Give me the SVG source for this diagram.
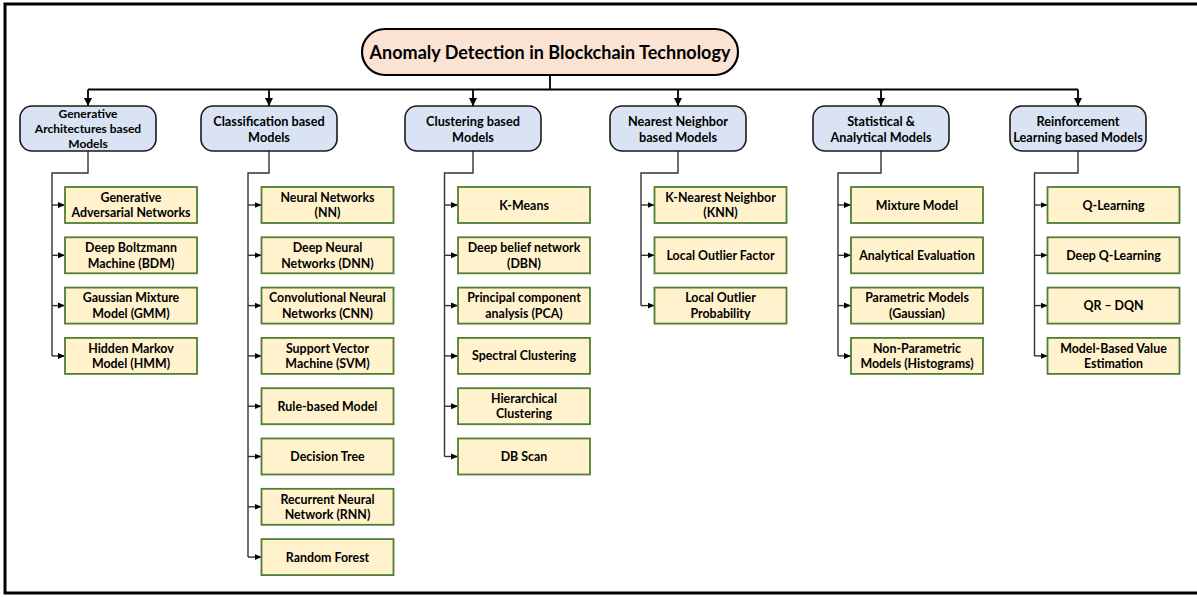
<svg xmlns="http://www.w3.org/2000/svg" width="1197" height="597" viewBox="0 0 1197 597">
<defs>
<style>
text{font-family:Lato,"Liberation Sans",sans-serif;font-weight:bold;fill:#000;text-anchor:middle;dominant-baseline:central}
.root rect{fill:#FBE3D4;stroke:#000;stroke-width:2.2}
.root text{font-size:18px}
.cat rect{fill:#DAE3F3;stroke:#1a1a1a;stroke-width:1.6}
.cat text{font-size:12.7px}
.cat text.s{font-size:12px}
.leaf rect{fill:#FFF2CC;stroke:#507E32;stroke-width:1.8}
.leaf text{font-size:12.4px}
.bus{fill:none;stroke:#000;stroke-width:1.8}
.sp{fill:none;stroke:#333;stroke-width:1.4}
</style>
<marker id="ad" markerUnits="userSpaceOnUse" markerWidth="9" markerHeight="10" refX="8" refY="5" orient="auto"><path d="M0,1 L8,5 L0,9 Z" fill="#000"/></marker>
<marker id="al" markerUnits="userSpaceOnUse" markerWidth="8" markerHeight="8" refX="7" refY="4" orient="auto"><path d="M0,1 L7,4 L0,7 Z" fill="#000"/></marker>
</defs>
<rect x="0" y="0" width="1197" height="597" fill="#fff"/>
<rect x="5" y="4" width="1200" height="589" fill="none" stroke="#000" stroke-width="3"/>

<g id="connectors">
<path class="bus" d="M550,75 V89.5 M88,89.5 H1078"/>
<path class="bus" d="M88,89.5 V106" marker-end="url(#ad)"/>
<path class="bus" d="M269,89.5 V106" marker-end="url(#ad)"/>
<path class="bus" d="M473,89.5 V106" marker-end="url(#ad)"/>
<path class="bus" d="M678,89.5 V106" marker-end="url(#ad)"/>
<path class="bus" d="M881,89.5 V106" marker-end="url(#ad)"/>
<path class="bus" d="M1078,89.5 V106" marker-end="url(#ad)"/>
<path class="sp" d="M88,151 V173 H52 V355.9"/>
<path class="sp" d="M269,151 V173 H248 V557.1"/>
<path class="sp" d="M473,151 V173 H444.5 V456.5"/>
<path class="sp" d="M678,151 V173 H641 V305.6"/>
<path class="sp" d="M881,151 V173 H838 V355.9"/>
<path class="sp" d="M1078,151 V173 H1034.5 V355.9"/>
<g class="sp" marker-end="url(#al)">
<path d="M52,205 H65"/><path d="M52,255.3 H65"/><path d="M52,305.6 H65"/><path d="M52,355.9 H65"/>
<path d="M248,205 H261.5"/><path d="M248,255.3 H261.5"/><path d="M248,305.6 H261.5"/><path d="M248,355.9 H261.5"/><path d="M248,406.2 H261.5"/><path d="M248,456.5 H261.5"/><path d="M248,506.8 H261.5"/><path d="M248,557.1 H261.5"/>
<path d="M444.5,205 H458"/><path d="M444.5,255.3 H458"/><path d="M444.5,305.6 H458"/><path d="M444.5,355.9 H458"/><path d="M444.5,406.2 H458"/><path d="M444.5,456.5 H458"/>
<path d="M641,205 H654.5"/><path d="M641,255.3 H654.5"/><path d="M641,305.6 H654.5"/>
<path d="M838,205 H851"/><path d="M838,255.3 H851"/><path d="M838,305.6 H851"/><path d="M838,355.9 H851"/>
<path d="M1034.5,205 H1047.5"/><path d="M1034.5,255.3 H1047.5"/><path d="M1034.5,305.6 H1047.5"/><path d="M1034.5,355.9 H1047.5"/>
</g>
</g>

<g id="root" class="root"><rect x="362" y="29" width="376" height="46" rx="23"/><text x="550" y="52">Anomaly Detection in Blockchain Technology</text></g>

<g id="cat-gen" class="cat"><rect x="20" y="106" width="136" height="45" rx="12"/><text class="s" x="88" y="113.5">Generative</text><text class="s" x="88" y="128.7">Architectures based</text><text class="s" x="88" y="143.9">Models</text></g>
<g id="cat-class" class="cat"><rect x="201" y="106" width="136" height="45" rx="12"/><text x="269" y="120.5">Classification based</text><text x="269" y="136.5">Models</text></g>
<g id="cat-clust" class="cat"><rect x="405" y="106" width="136" height="45" rx="12"/><text x="473" y="120.5">Clustering based</text><text x="473" y="136.5">Models</text></g>
<g id="cat-nn" class="cat"><rect x="610" y="106" width="136" height="45" rx="12"/><text x="678" y="120.5">Nearest Neighbor</text><text x="678" y="136.5">based Models</text></g>
<g id="cat-stat" class="cat"><rect x="813" y="106" width="136" height="45" rx="12"/><text x="881" y="120.5">Statistical &amp;</text><text x="881" y="136.5">Analytical Models</text></g>
<g id="cat-rl" class="cat"><rect x="1010" y="106" width="136" height="45" rx="12"/><text x="1078" y="120.5">Reinforcement</text><text x="1078" y="136.5">Learning based Models</text></g>

<g id="gen-1" class="leaf"><rect x="65" y="187" width="132" height="36"/><text x="131" y="197.3">Generative</text><text x="131" y="212.7">Adversarial Networks</text></g>
<g id="gen-2" class="leaf"><rect x="65" y="237.3" width="132" height="36"/><text x="131" y="247.6">Deep Boltzmann</text><text x="131" y="263">Machine (BDM)</text></g>
<g id="gen-3" class="leaf"><rect x="65" y="287.6" width="132" height="36"/><text x="131" y="297.9">Gaussian Mixture</text><text x="131" y="313.3">Model (GMM)</text></g>
<g id="gen-4" class="leaf"><rect x="65" y="337.9" width="132" height="36"/><text x="131" y="348.2">Hidden Markov</text><text x="131" y="363.6">Model (HMM)</text></g>

<g id="cls-1" class="leaf"><rect x="261.5" y="187" width="132" height="36"/><text x="327.5" y="197.3">Neural Networks</text><text x="327.5" y="212.7">(NN)</text></g>
<g id="cls-2" class="leaf"><rect x="261.5" y="237.3" width="132" height="36"/><text x="327.5" y="247.6">Deep Neural</text><text x="327.5" y="263">Networks (DNN)</text></g>
<g id="cls-3" class="leaf"><rect x="261.5" y="287.6" width="132" height="36"/><text x="327.5" y="297.9">Convolutional Neural</text><text x="327.5" y="313.3">Networks (CNN)</text></g>
<g id="cls-4" class="leaf"><rect x="261.5" y="337.9" width="132" height="36"/><text x="327.5" y="348.2">Support Vector</text><text x="327.5" y="363.6">Machine (SVM)</text></g>
<g id="cls-5" class="leaf"><rect x="261.5" y="388.2" width="132" height="36"/><text x="327.5" y="406.2">Rule-based Model</text></g>
<g id="cls-6" class="leaf"><rect x="261.5" y="438.5" width="132" height="36"/><text x="327.5" y="456.5">Decision Tree</text></g>
<g id="cls-7" class="leaf"><rect x="261.5" y="488.8" width="132" height="36"/><text x="327.5" y="499.1">Recurrent Neural</text><text x="327.5" y="514.5">Network (RNN)</text></g>
<g id="cls-8" class="leaf"><rect x="261.5" y="539.1" width="132" height="36"/><text x="327.5" y="557.1">Random Forest</text></g>

<g id="clu-1" class="leaf"><rect x="458" y="187" width="132" height="36"/><text x="524" y="205">K-Means</text></g>
<g id="clu-2" class="leaf"><rect x="458" y="237.3" width="132" height="36"/><text x="524" y="247.6">Deep belief network</text><text x="524" y="263">(DBN)</text></g>
<g id="clu-3" class="leaf"><rect x="458" y="287.6" width="132" height="36"/><text x="524" y="297.9">Principal component</text><text x="524" y="313.3">analysis (PCA)</text></g>
<g id="clu-4" class="leaf"><rect x="458" y="337.9" width="132" height="36"/><text x="524" y="355.9">Spectral Clustering</text></g>
<g id="clu-5" class="leaf"><rect x="458" y="388.2" width="132" height="36"/><text x="524" y="398.5">Hierarchical</text><text x="524" y="413.9">Clustering</text></g>
<g id="clu-6" class="leaf"><rect x="458" y="438.5" width="132" height="36"/><text x="524" y="456.5">DB Scan</text></g>

<g id="nn-1" class="leaf"><rect x="654.5" y="187" width="132" height="36"/><text x="720.5" y="197.3">K-Nearest Neighbor</text><text x="720.5" y="212.7">(KNN)</text></g>
<g id="nn-2" class="leaf"><rect x="654.5" y="237.3" width="132" height="36"/><text x="720.5" y="255.3">Local Outlier Factor</text></g>
<g id="nn-3" class="leaf"><rect x="654.5" y="287.6" width="132" height="36"/><text x="720.5" y="297.9">Local Outlier</text><text x="720.5" y="313.3">Probability</text></g>

<g id="st-1" class="leaf"><rect x="851" y="187" width="132" height="36"/><text x="917" y="205">Mixture Model</text></g>
<g id="st-2" class="leaf"><rect x="851" y="237.3" width="132" height="36"/><text x="917" y="255.3">Analytical Evaluation</text></g>
<g id="st-3" class="leaf"><rect x="851" y="287.6" width="132" height="36"/><text x="917" y="297.9">Parametric Models</text><text x="917" y="313.3">(Gaussian)</text></g>
<g id="st-4" class="leaf"><rect x="851" y="337.9" width="132" height="36"/><text x="917" y="348.2">Non-Parametric</text><text x="917" y="363.6">Models (Histograms)</text></g>

<g id="rl-1" class="leaf"><rect x="1047.5" y="187" width="132" height="36"/><text x="1113.5" y="205">Q-Learning</text></g>
<g id="rl-2" class="leaf"><rect x="1047.5" y="237.3" width="132" height="36"/><text x="1113.5" y="255.3">Deep Q-Learning</text></g>
<g id="rl-3" class="leaf"><rect x="1047.5" y="287.6" width="132" height="36"/><text x="1113.5" y="305.6">QR – DQN</text></g>
<g id="rl-4" class="leaf"><rect x="1047.5" y="337.9" width="132" height="36"/><text x="1113.5" y="348.2">Model-Based Value</text><text x="1113.5" y="363.6">Estimation</text></g>
</svg>
